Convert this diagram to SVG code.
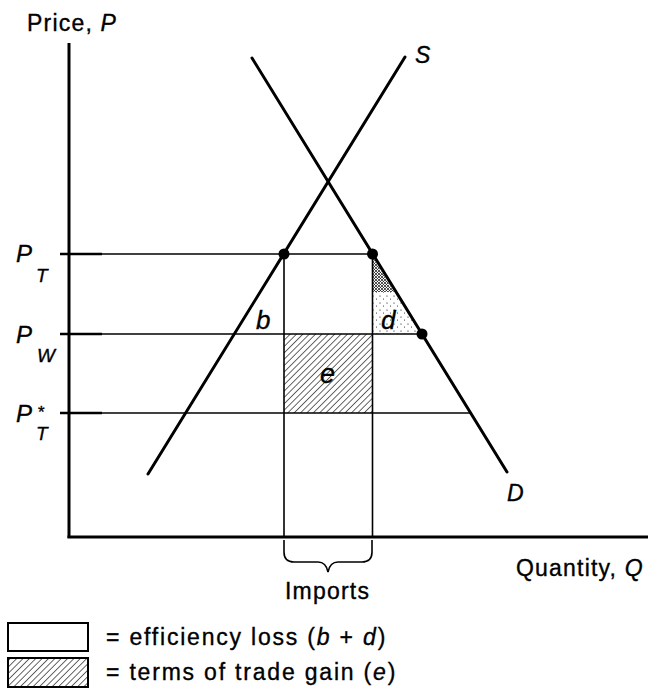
<svg xmlns="http://www.w3.org/2000/svg" width="652" height="692" viewBox="0 0 652 692">
<style>
.t{font-family:"Liberation Sans",Arial,sans-serif;font-size:23px;letter-spacing:1.2px;fill:#000;stroke:#000;stroke-width:0.35}
.i{font-style:italic}
.ax{stroke:#000;stroke-width:3;fill:none}
.cv{stroke:#000;stroke-width:3;fill:none;stroke-linecap:round}
.ln{stroke:#000;stroke-width:1.6;fill:none}
.tk{stroke:#000;stroke-width:2.6}
.dot{fill:#000}
</style>
<defs>
<pattern id="hatch" width="4.5" height="4.5" patternUnits="userSpaceOnUse" patternTransform="rotate(45)">
<rect width="4.5" height="4.5" fill="#fff"/>
<line x1="0" y1="0" x2="0" y2="4.5" stroke="#000" stroke-width="1.2"/>
</pattern>
<pattern id="stip" width="7" height="7" patternUnits="userSpaceOnUse">
<rect width="7" height="7" fill="#fff"/>
<circle cx="2" cy="2" r="0.6" fill="#000"/>
<circle cx="5.5" cy="5" r="0.5" fill="#000"/>
</pattern>
<pattern id="stipd" width="3" height="3" patternUnits="userSpaceOnUse">
<rect width="3" height="3" fill="#fff"/>
<circle cx="1" cy="1" r="0.9" fill="#000"/>
<circle cx="2.4" cy="2.3" r="0.6" fill="#000"/>
</pattern>
</defs>

<g id="areas">
<rect x="284" y="334" width="88" height="79" fill="url(#hatch)"/>
<polygon points="372,254 372,334 422,334" fill="url(#stip)"/>
<polygon points="372,256 372,292 394,292" fill="url(#stipd)"/>
</g>

<g id="connectors">
<line class="ax" x1="69" y1="43" x2="69" y2="538"/>
<line class="ax" x1="67.5" y1="537" x2="648" y2="537"/>
<line class="ln" x1="60" y1="254" x2="372" y2="254"/>
<line class="ln" x1="60" y1="334" x2="422" y2="334"/>
<line class="ln" x1="60" y1="413" x2="471" y2="413"/>
<line class="tk" x1="60" y1="254" x2="102" y2="254"/>
<line class="tk" x1="60" y1="334" x2="102" y2="334"/>
<line class="tk" x1="60" y1="413" x2="102" y2="413"/>
<line class="ln" x1="284" y1="254" x2="284" y2="537"/>
<line class="ln" x1="372.5" y1="254" x2="372.5" y2="537"/>
<line id="S" class="cv" x1="148" y1="474" x2="405" y2="57"/>
<line id="D" class="cv" x1="252" y1="58" x2="507" y2="472"/>
<path class="ln" d="M284,540 L284,552 Q284,562 294,562 L318,562 Q326,562 328,572 Q330,562 338,562 L362,562 Q372,562 372,552 L372,540"/>
</g>

<g id="points">
<circle class="dot" cx="284" cy="254" r="5.5"/>
<circle class="dot" cx="372.5" cy="254" r="5.5"/>
<circle class="dot" cx="422" cy="334" r="5.5"/>
</g>

<g id="axis-labels">
<text class="t" x="27" y="31">Price, <tspan class="i">P</tspan></text>
<text class="t" x="516" y="576">Quantity, <tspan class="i">Q</tspan></text>
<text class="t i" x="415" y="63">S</text>
<text class="t i" x="507" y="501">D</text>
<text class="t" x="285" y="599">Imports</text>
</g>

<g id="price-labels">
<text class="t i" style="font-size:24px;letter-spacing:0" x="16" y="262">P</text>
<text class="t i" style="font-size:19px;letter-spacing:0" x="36" y="282">T</text>
<text class="t i" style="font-size:24px;letter-spacing:0" x="16" y="343">P</text>
<text class="t i" style="font-size:19px;letter-spacing:0" x="37" y="362">W</text>
<text class="t i" style="font-size:24px;letter-spacing:0" x="16" y="422">P</text>
<text class="t" style="font-size:17px;letter-spacing:0" x="38" y="418">*</text>
<text class="t i" style="font-size:19px;letter-spacing:0" x="36" y="440">T</text>
</g>

<g id="area-labels">
<text class="t i" style="font-size:26px;letter-spacing:0" x="256" y="329">b</text>
<text class="t i" style="font-size:26px;letter-spacing:0" x="381" y="329">d</text>
<text class="t i" style="font-size:27px;letter-spacing:0" x="320" y="383">e</text>
</g>

<g id="legend">
<rect x="8" y="623" width="80" height="28" fill="#fff" stroke="#000" stroke-width="2"/>
<rect x="8" y="658" width="80" height="29" fill="url(#hatch)" stroke="#000" stroke-width="2"/>
<text class="t" style="letter-spacing:1.8px" x="106" y="645">= efficiency loss (<tspan class="i">b</tspan> + <tspan class="i">d</tspan>)</text>
<text class="t" style="letter-spacing:1.8px" x="106" y="680">= terms of trade gain (<tspan class="i">e</tspan>)</text>
</g>
</svg>
